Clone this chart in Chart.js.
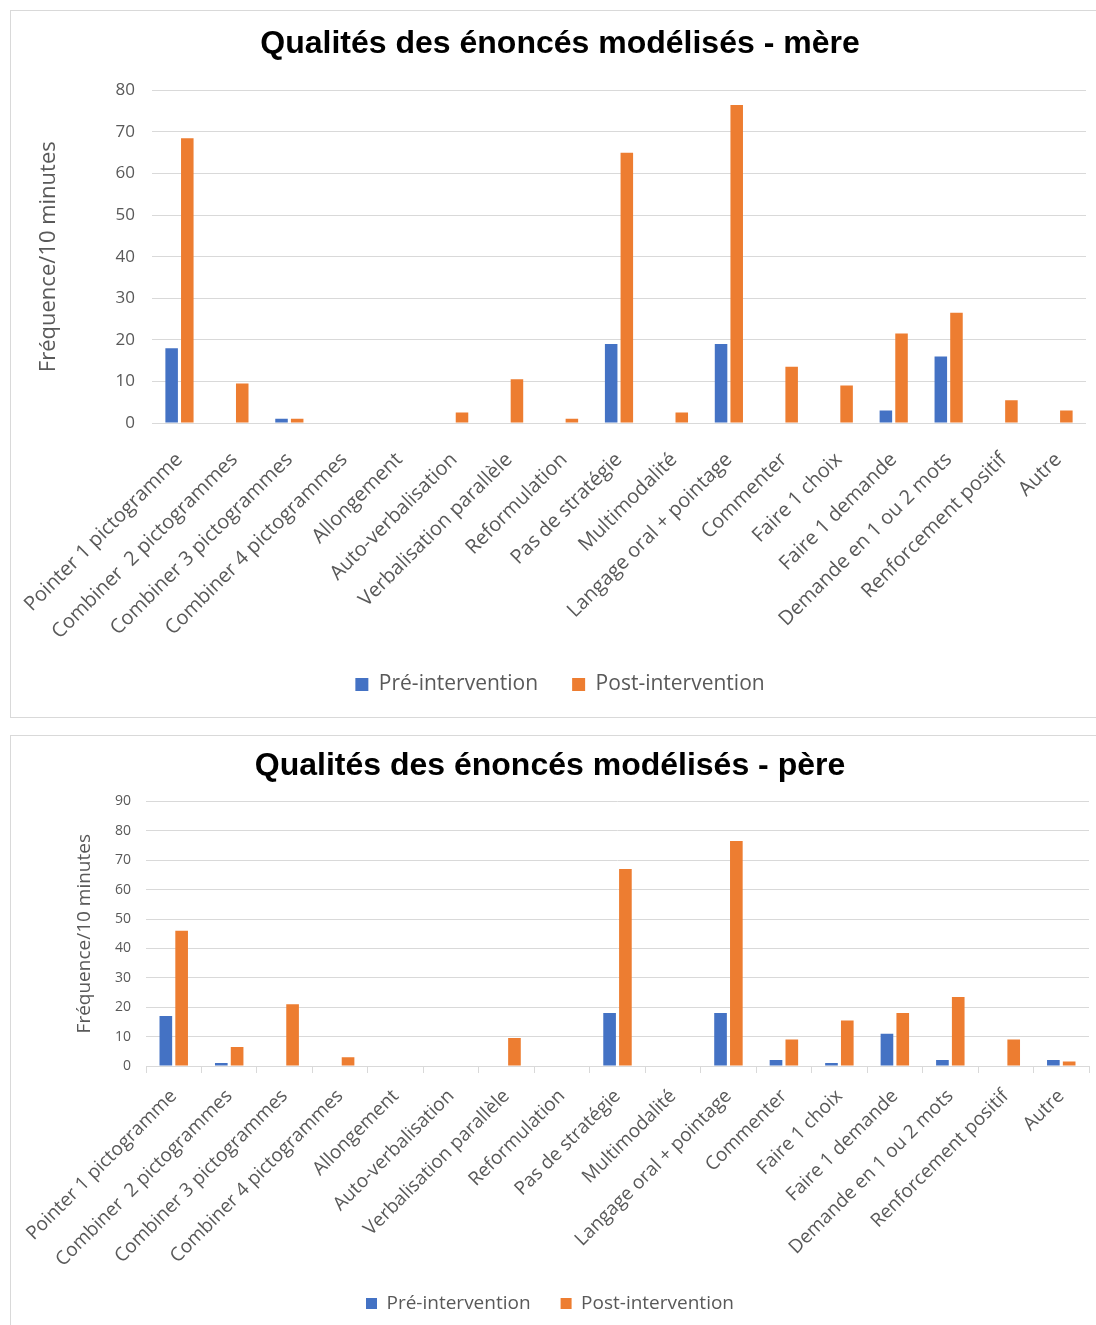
<!DOCTYPE html>
<html>
<head>
<meta charset="utf-8">
<script src="https://cdn.jsdelivr.net/npm/chart.js@4"></script>
<style>
  html, body { margin: 0; padding: 0; background: #fff; overflow: hidden; width: 1096px; height: 1325px; }
  .panel { position: absolute; left: 10px; width: 1100px; border: 1px solid #d9d9d9; background: #fff; }
  #panelMere { top: 10px; height: 706px; }
  #panelPere { top: 735px; height: 620px; }
  canvas { position: absolute; left: 0; top: 0; }
</style>
</head>
<body>
<div class="panel" id="panelMere"><canvas id="chartMere" width="1085" height="706"></canvas></div>
<div class="panel" id="panelPere"><canvas id="chartPere" width="1085" height="589"></canvas></div>
<script>
const categories = [
  'Pointer 1 pictogramme', 'Combiner  2 pictogrammes', 'Combiner 3 pictogrammes',
  'Combiner 4 pictogrammes', 'Allongement', 'Auto-verbalisation',
  'Verbalisation parallèle', 'Reformulation', 'Pas de stratégie', 'Multimodalité',
  'Langage oral + pointage', 'Commenter', 'Faire 1 choix', 'Faire 1 demande',
  'Demande en 1 ou 2 mots', 'Renforcement positif', 'Autre'
];

// mère
const merePre  = [18, 0, 1, 0, 0, 0, 0, 0, 19, 0, 19, 0, 0, 3, 16, 0, 0];
const merePost = [68.5, 9.5, 1, 0, 0, 2.5, 10.5, 1, 65, 2.5, 76.5, 13.5, 9, 21.5, 26.5, 5.5, 3];

// père
const perePre  = [17, 1, 0, 0, 0, 0, 0, 0, 18, 0, 18, 2, 1, 11, 2, 0, 2];
const perePost = [46, 6.5, 21, 3, 0, 0, 9.5, 0, 67, 0, 76.5, 9, 15.5, 18, 23.5, 9, 1.5];

const seriesNames = ['Pré-intervention', 'Post-intervention'];
const yMaxMere = 80;
const yMaxPere = 90;
const yStep = 10;

const blue = '#4472C4';
const orange = '#ED7D31';
const grid = '#d9d9d9';
const textGray = '#595959';

Chart.defaults.font.family = "'Open Sans', sans-serif";
Chart.defaults.color = textGray;

function makeChart(id, title, pre, post, yMax, s) {
  return new Chart(document.getElementById(id), {
    type: 'bar',
    data: {
      labels: categories,
      datasets: [
        { label: seriesNames[0], data: pre, backgroundColor: blue, borderWidth: 0 },
        { label: seriesNames[1], data: post, backgroundColor: orange, borderWidth: 0 }
      ]
    },
    options: {
      responsive: false,
      animation: false,
      categoryPercentage: 0.57,
      barPercentage: 0.8,
      layout: { padding: s.layoutPadding },
      plugins: {
        tooltip: { enabled: false },
        title: {
          display: true,
          text: title,
          color: '#000',
          font: { family: "'Liberation Sans', Arial, sans-serif", size: 32, weight: 'bold' },
          padding: s.titlePadding
        },
        legend: {
          position: 'bottom',
          labels: {
            color: textGray,
            font: { size: s.legendFont },
            boxWidth: s.legendBox,
            boxHeight: s.legendBox,
            padding: s.legendPadding
          }
        }
      },
      scales: {
        x: {
          grid: {
            display: s.xTicks,
            drawOnChartArea: false,
            color: grid,
            tickLength: 7,
            offset: true
          },
          border: { display: s.xTicks, color: grid },
          ticks: {
            autoSkip: false,
            minRotation: 45,
            maxRotation: 45,
            padding: s.xTickPadding,
            color: textGray,
            font: { size: s.xFont }
          },
          afterFit: (scale) => {
            // keep the plot width fixed, the rotated labels may overflow to the left
            scale.height = s.xHeight;
            scale.paddingLeft = 0;
            scale.paddingRight = 0;
          }
        },
        y: {
          min: 0,
          max: yMax,
          ticks: { stepSize: yStep, padding: s.yTickPadding, color: textGray, font: { size: s.yFont } },
          grid: { color: grid, drawTicks: false },
          border: { display: false },
          title: {
            display: true,
            text: 'Fréquence/10 minutes',
            color: textGray,
            font: { size: s.yTitleFont },
            padding: { top: s.yTitlePad, bottom: 0 }
          },
          afterFit: (scale) => { scale.width = s.yWidth; }
        }
      }
    }
  });
}

makeChart('chartMere', 'Qualités des énoncés modélisés - mère', merePre, merePost, yMaxMere, {
  layoutPadding: { left: 23, right: 10, top: 0, bottom: 12 },
  titlePadding: { top: 14, bottom: 27 },
  legendFont: 21, legendBox: 13, legendPadding: 34,
  xTicks: false, xTickPadding: 18, xFont: 20, xHeight: 217,
  yTickPadding: 17, yFont: 17, yTitleFont: 22, yTitlePad: 2, yWidth: 118
});

makeChart('chartPere', 'Qualités des énoncés modélisés - père', perePre, perePost, yMaxPere, {
  layoutPadding: { left: 0, right: 7, top: 0, bottom: 2 },
  titlePadding: { top: 11, bottom: 16 },
  legendFont: 19, legendBox: 11, legendPadding: 30,
  xTicks: true, xTickPadding: 12, xFont: 19, xHeight: 198,
  yTickPadding: 15, yFont: 14, yTitleFont: 19, yTitlePad: 62, yWidth: 135
});
</script>
</body>
</html>
